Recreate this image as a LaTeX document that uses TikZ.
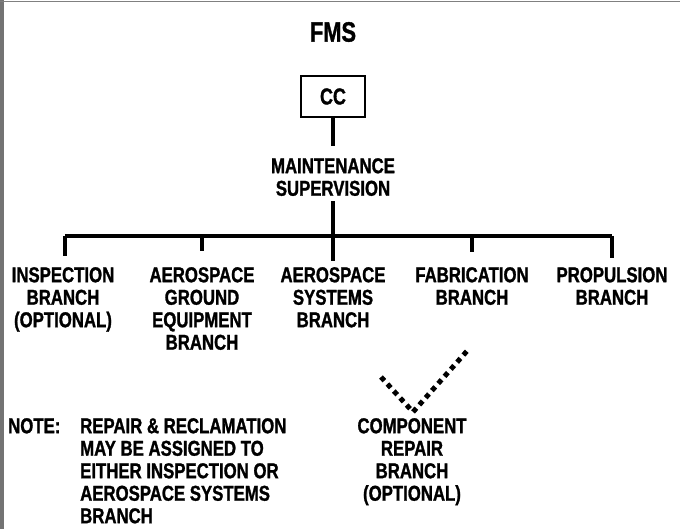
\documentclass[tikz,border=0pt]{standalone}
\usepackage{fontspec}
\setmainfont[FakeStretch=0.78, FakeBold=1.2]{Liberation Sans}
\begin{document}
\begin{tikzpicture}[x=1pt,y=-1pt,
  lbl/.style={font=\fontsize{21.5}{22.5}\selectfont\bfseries, align=center, inner sep=0pt, anchor=north},
  conn/.style={line width=3.2pt},
  dotconn/.style={line width=5pt, dash pattern=on 5pt off 4.5pt}]
\useasboundingbox (0,0) rectangle (680,529);
% scan edges
\fill[black!55] (0,0) rectangle (4,529);
\draw[black!50, line width=0.8pt] (0,1.5) -- (680,1.5);

\node[font=\fontsize{28}{30}\selectfont\bfseries, inner sep=0pt] (fms) at (333,32) {FMS};
\node[draw, line width=2.6pt, minimum width=64pt, minimum height=41pt, inner sep=0pt,
      font=\fontsize{23}{24}\selectfont\bfseries] (cc) at (333,96.5) {CC};
\node[lbl] (ms) at (333,158) {MAINTENANCE\\SUPERVISION};

\coordinate (bar) at (333,236);
\coordinate (barL) at (65,236);
\coordinate (barR) at (612,236);

\node[lbl] (b1) at (63,267) {INSPECTION\\BRANCH\\(OPTIONAL)};
\node[lbl] (b2) at (202,267) {AEROSPACE\\GROUND\\EQUIPMENT\\BRANCH};
\node[lbl] (b3) at (333,267) {AEROSPACE\\SYSTEMS\\BRANCH};
\node[lbl] (b4) at (472,267) {FABRICATION\\BRANCH};
\node[lbl] (b5) at (612,267) {PROPULSION\\BRANCH};

\node[lbl] (comp) at (412,418) {COMPONENT\\REPAIR\\BRANCH\\(OPTIONAL)};
\node[lbl, anchor=north west] (note) at (8,418) {NOTE:};
\node[lbl, anchor=north west, align=left] (notetxt) at (80,418)
  {REPAIR \& RECLAMATION\\MAY BE ASSIGNED TO\\EITHER INSPECTION OR\\AEROSPACE SYSTEMS\\BRANCH};

% solid connectors
\draw[conn] (cc.south) -- ([yshift=12pt]ms.north);
\draw[conn] ([yshift=-5pt]ms.south) -- (bar);
\draw[conn] (barL) -- (barR);
\draw[conn] (barL) -- ([yshift=11pt]b1.north -| barL);
\draw[conn] (b2.north |- bar) -- ([yshift=16pt]b2.north);
\draw[conn] (bar) -- ([yshift=6pt]b3.north);
\draw[conn] (b4.north |- bar) -- ([yshift=15pt]b4.north);
\draw[conn] (barR) -- ([yshift=9pt]b5.north -| barR);

% dotted connectors to component repair
\coordinate (vtx) at (413,412);
\coordinate (dl) at (381,377);
\coordinate (dr) at (467,351);
\draw[dotconn] (dl) -- (vtx) -- (dr);
\end{tikzpicture}
\end{document}
